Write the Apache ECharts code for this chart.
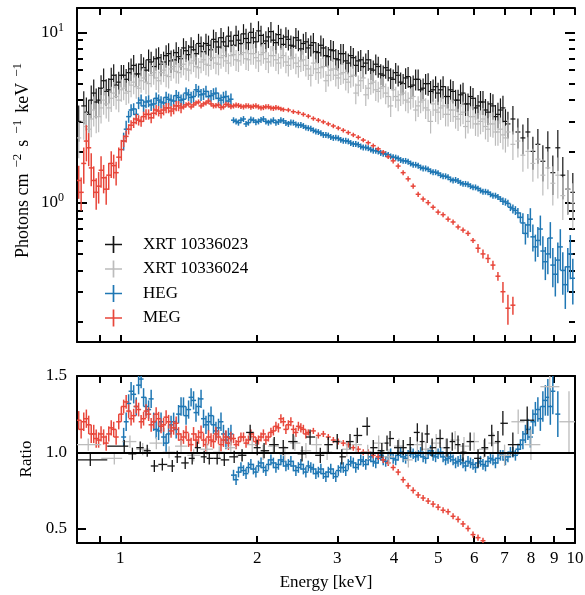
<!DOCTYPE html>
<html>
<head>
<meta charset="utf-8">
<script src="https://cdn.jsdelivr.net/npm/echarts@6/dist/echarts.min.js"></script>
<style>
  html, body { margin: 0; padding: 0; background: #fff; }
  #chart { width: 585px; height: 595px; }
</style>
</head>
<body>
<div id="chart"></div>
<script>
// energy bins (keV)
var energyGrid = [
  0.810, 0.831, 0.852, 0.874, 0.896, 0.919, 0.943, 0.967, 0.992, 1.017,
  1.043, 1.070, 1.097, 1.125, 1.154, 1.184, 1.214, 1.245, 1.277, 1.310,
  1.343, 1.377, 1.413, 1.449, 1.486, 1.524, 1.563, 1.603, 1.644, 1.686,
  1.729, 1.774, 1.819, 1.866, 1.913, 1.962, 2.013, 2.064, 2.117, 2.171,
  2.227, 2.284, 2.342, 2.402, 2.464, 2.527, 2.591, 2.658, 2.726, 2.796,
  2.867, 2.941, 3.016, 3.093, 3.172, 3.254, 3.337, 3.422, 3.510, 3.600,
  3.692, 3.786, 3.883, 3.982, 4.084, 4.188, 4.295, 4.406, 4.519, 4.634,
  4.753, 4.874, 4.999, 5.127, 5.258, 5.393, 5.531, 5.672, 5.817, 5.966,
  6.119, 6.275, 6.436, 6.600, 6.769, 6.943, 7.120, 7.302, 7.489, 7.681,
  7.877, 8.079, 8.286, 8.498, 8.715, 8.938, 9.167, 9.401, 9.642, 9.890
];
// bins lying between the ones above
var energyMid = [
  0.820, 0.842, 0.863, 0.885, 0.907, 0.931, 0.955, 0.979, 1.005, 1.030,
  1.056, 1.084, 1.111, 1.139, 1.169, 1.199, 1.229, 1.261, 1.293, 1.327,
  1.360, 1.395, 1.431, 1.467, 1.505, 1.543, 1.583, 1.623, 1.665, 1.707,
  1.751, 1.797, 1.842, 1.890, 1.937, 1.987, 2.039, 2.090, 2.144, 2.199,
  2.255, 2.313, 2.372, 2.433, 2.495, 2.559, 2.624, 2.692, 2.761, 2.832,
  2.903, 2.978, 3.054, 3.132, 3.212, 3.295, 3.379, 3.466, 3.555, 3.646,
  3.739, 3.834, 3.932, 4.033, 4.136, 4.241, 4.350, 4.462, 4.576, 4.693,
  4.813, 4.936, 5.063, 5.192, 5.325, 5.462, 5.601, 5.744, 5.891, 6.042,
  6.197, 6.355, 6.518, 6.684, 6.855, 7.031, 7.211, 7.395, 7.584, 7.779,
  7.977, 8.182, 8.391, 8.606, 8.826, 9.052, 9.284, 9.521, 9.765
];

// photons cm^-2 s^-1 keV^-1
var xrt23Flux = [
  3.0, 3.7, 3.3, 4.4, 4.0, 5.2, 4.6, 5.6, 5.1, 5.6,
  5.8, 6.4, 5.7, 6.2, 6.9, 6.3, 7.1, 6.7, 7.5, 6.9,
  7.2, 8.1, 7.4, 7.9, 8.6, 7.7, 8.4, 9.1, 8.2, 8.8,
  9.5, 8.4, 9.0, 9.8, 8.7, 9.3, 10.2, 8.6, 9.4, 9.0,
  9.7, 8.5, 9.1, 8.3, 9.0, 8.6, 8.1, 8.7, 7.6, 8.1,
  7.2, 7.8, 6.9, 7.5, 6.6, 7.1, 6.8, 6.3, 6.9, 6.0,
  6.3, 5.6, 6.0, 5.3, 5.6, 5.0, 5.5, 4.9, 5.3, 4.7,
  5.0, 4.6, 4.4, 4.8, 4.2, 4.5, 4.0, 4.4, 3.8, 4.1,
  3.7, 3.9, 3.4, 3.7, 3.3, 3.6, 2.9, 3.1, 2.6, 2.4,
  2.6, 2.0, 2.2, 1.75, 2.1, 1.5, 2.1, 1.45, 1.2, 1.15
];
var xrt23Mid = [
  null, 3.4, 4.0, 3.9, 4.7, 4.5, 5.3, 4.9, 5.6, 5.3,
  6.1, 5.7, 6.5, 6.0, 6.7, 7.0, 6.5, 7.3, 6.8, 7.6,
  7.0, 7.8, 8.2, 7.5, 8.3, 8.6, 7.9, 8.8, 9.3, 8.3,
  8.9, 9.6, 8.6, 9.2, 10.0, 8.8, 9.6, 8.9, 10.1, 8.7,
  9.2, 9.4, 8.4, 9.3, 8.0, 8.8, 8.4, 7.7, 8.4, 7.3,
  7.9, 7.0, 7.5, 6.8, 7.3, 6.4, 6.9, 6.6, 6.1, 6.5,
  5.7, 6.2, 5.4, 5.8, 5.1, 5.4, 4.8, 5.3, 4.6, 5.0,
  4.5, 4.8, 4.6, 4.2, 4.6, 4.0, 4.3, 3.8, 4.2, 3.6,
  3.9, 3.5, 3.8, 3.2, 3.5, 3.0
];
var xrt24Flux = [
  2.4, 3.0, 2.7, 3.5, 3.2, 4.0, 3.6, 4.4, 4.0, 4.7,
  4.5, 5.1, 4.7, 5.4, 5.0, 5.8, 5.2, 6.0, 5.5, 6.3,
  5.8, 6.5, 6.0, 6.8, 6.2, 6.9, 6.4, 7.1, 6.5, 7.3,
  6.6, 7.4, 6.8, 7.6, 6.9, 7.5, 6.8, 7.6, 6.7, 7.3,
  6.6, 7.3, 6.4, 7.1, 6.3, 6.9, 6.1, 6.6, 5.8, 6.3,
  5.6, 6.1, 5.4, 5.8, 5.1, 5.6, 4.9, 5.4, 4.7, 5.1,
  4.5, 4.8, 4.2, 4.6, 4.0, 4.4, 3.9, 4.2, 3.7, 4.0,
  3.5, 3.8, 3.4, 3.7, 3.3, 3.5, 3.1, 3.4, 3.0, 3.2,
  2.9, 3.1, 2.7, 2.9, 2.6, 2.5, 2.6, 2.2, 2.3, 1.9,
  2.0, 1.7, 1.8, 1.45, 1.6, 1.3, 1.45, 1.1, 1.2, 1.0
];
var xrt24Mid = [
  null, 2.8, 3.1, 3.2, 3.6, 3.8, 4.1, 4.2, 4.6, 4.4,
  4.9, 4.8, 5.2, 5.1, 5.6, 5.4, 5.8, 5.6, 6.1, 5.9,
  6.3, 6.1, 6.6, 6.3, 6.7, 6.5, 7.0, 6.6, 7.1, 6.8,
  7.3, 6.9, 7.4, 7.0, 7.5, 7.1, 7.4, 7.0, 7.3, 6.9,
  7.1, 6.7, 7.0, 6.6, 6.8, 6.4, 5.6, 6.1, 6.2, 5.2,
  6.0, 5.6, 5.7, 5.3, 5.5, 4.4, 5.2, 4.3, 5.0, 4.6,
  4.7, 4.4, 3.7, 4.2, 4.3, 4.0, 4.1, 3.5, 3.9, 3.6,
  3.0, 3.5, 3.6, 3.3, 3.5, 3.2, 3.3, 2.8, 3.2, 2.9,
  3.0, 2.8, 2.9, 2.6, 2.7, 2.4
];
// fractional errors of both XRT spectra
var xrtFluxErr = [
  0.24, 0.22, 0.22, 0.2, 0.19, 0.18, 0.17, 0.16, 0.15, 0.15,
  0.15, 0.15, 0.15, 0.15, 0.15, 0.15, 0.15, 0.15, 0.15, 0.15,
  0.14, 0.14, 0.14, 0.14, 0.14, 0.14, 0.14, 0.14, 0.14, 0.14,
  0.14, 0.14, 0.14, 0.14, 0.14, 0.14, 0.14, 0.14, 0.14, 0.14,
  0.14, 0.14, 0.14, 0.14, 0.14, 0.14, 0.14, 0.14, 0.14, 0.14,
  0.14, 0.14, 0.14, 0.14, 0.14, 0.14, 0.14, 0.14, 0.14, 0.14,
  0.14, 0.14, 0.14, 0.14, 0.14, 0.14, 0.14, 0.14, 0.14, 0.14,
  0.15, 0.15, 0.15, 0.15, 0.15, 0.15, 0.15, 0.15, 0.15, 0.15,
  0.16, 0.16, 0.16, 0.17, 0.17, 0.18, 0.18, 0.19, 0.2, 0.2,
  0.21, 0.22, 0.23, 0.24, 0.25, 0.26, 0.27, 0.28, 0.29, 0.3
];

var hegFlux = [
  null, null, null, null, null, null, null, null, null, 2.3,
  3.2, 3.55, 3.85, 3.7, 3.95, 3.8, 4.0, 3.85, 4.05, 3.95,
  4.15, 4.05, 4.3, 4.2, 4.5, 4.35, 4.2, 4.35, 4.1, 4.15,
  3.95, 3.05, 2.95, 3.1, 2.95, 3.05, 3.0, 3.1, 2.95, 3.05,
  2.98, 3.02, 2.9, 2.95, 2.85, 2.82, 2.74, 2.66, 2.6, 2.5,
  2.48, 2.4, 2.39, 2.31, 2.29, 2.21, 2.19, 2.11, 2.09, 2.02,
  2.0, 1.94, 1.91, 1.85, 1.82, 1.76, 1.74, 1.67, 1.65, 1.59,
  1.57, 1.51, 1.49, 1.43, 1.41, 1.35, 1.34, 1.29, 1.28, 1.23,
  1.21, 1.16, 1.15, 1.1, 1.08, 1.02, 0.99, 0.92, 0.87, 0.76,
  0.74, 0.63, 0.6, 0.52, 0.5, 0.43, 0.46, 0.4, 0.42, 0.36
];
var hegMid = [
  null, null, null, null, null, null, null, null, null, 2.7,
  3.5, 3.3, 4.0, 3.9, 3.75, 4.1, 3.9, 4.15, 4.0, 4.25,
  4.0, 4.4, 4.15, 4.6, 4.3, 4.5, 4.25, 4.4, 4.0, 4.2,
  4.05, 3.0, 3.05, 2.9, 3.08, 2.97, 3.06, 3.0, 3.0, 2.95,
  3.05, 2.94, 2.96, 2.88, 2.86, 2.76, 2.72, 2.62, 2.56, 2.5,
  2.43, 2.41, 2.34, 2.31, 2.24, 2.21, 2.14, 2.11, 2.05, 2.02,
  1.96, 1.93, 1.87, 1.84, 1.78, 1.76, 1.7, 1.67, 1.61, 1.59,
  1.53, 1.51, 1.45, 1.43, 1.37, 1.36, 1.31, 1.29, 1.25, 1.23,
  1.18, 1.16, 1.12, 1.1, 1.05, 1.01, 0.94, 0.9, 0.82, 0.66,
  0.8, 0.55, 0.7, 0.45, 0.62, 0.38, 0.55, 0.33, 0.5
];
var hegFluxErr = [
  0, 0, 0, 0, 0, 0, 0, 0, 0, 0.12,
  0.08, 0.08, 0.08, 0.08, 0.08, 0.08, 0.08, 0.08, 0.08, 0.08,
  0.08, 0.08, 0.08, 0.08, 0.08, 0.08, 0.08, 0.08, 0.08, 0.08,
  0.08, 0.04, 0.04, 0.04, 0.04, 0.04, 0.04, 0.04, 0.04, 0.04,
  0.04, 0.04, 0.04, 0.04, 0.04, 0.04, 0.04, 0.04, 0.04, 0.04,
  0.04, 0.04, 0.04, 0.04, 0.04, 0.04, 0.04, 0.04, 0.04, 0.04,
  0.04, 0.04, 0.04, 0.04, 0.04, 0.04, 0.04, 0.04, 0.04, 0.04,
  0.04, 0.04, 0.04, 0.04, 0.04, 0.04, 0.04, 0.04, 0.04, 0.04,
  0.04, 0.04, 0.04, 0.04, 0.04, 0.05, 0.05, 0.06, 0.07, 0.14,
  0.16, 0.18, 0.2, 0.22, 0.24, 0.26, 0.27, 0.28, 0.29, 0.3
];

var megFlux = [
  1.35, 1.7, 2.1, 1.35, 1.25, 1.4, 1.45, 1.65, 1.85, 2.3,
  2.7, 2.95, 3.05, 3.2, 3.3, 3.35, 3.45, 3.5, 3.6, 3.55,
  3.7, 3.65, 3.8, 3.75, 3.9, 3.8, 3.95, 3.7, 3.75, 3.65,
  3.75, 3.7, 3.72, 3.65, 3.7, 3.68, 3.65, 3.62, 3.66, 3.58,
  3.6, 3.52, 3.5, 3.42, 3.38, 3.3, 3.22, 3.12, 3.05, 2.98,
  2.9, 2.82, 2.74, 2.66, 2.58, 2.5, 2.42, 2.33, 2.25, 2.16,
  2.07, 1.98, 1.86, 1.76, 1.64, 1.5, 1.38, 1.25, 1.12, 1.05,
  1.0, 0.94, 0.88, 0.85, 0.8, 0.77, 0.72, 0.69, 0.66, 0.6,
  0.54, 0.5, 0.47, 0.43, 0.37, 0.3, 0.24, 0.25
];
var megMid = [
  1.15, 2.3, 1.6, 1.15, 1.55, 1.2, 1.7, 1.5, 2.05, 2.45,
  2.85, 3.1, 3.0, 3.3, 3.15, 3.5, 3.35, 3.6, 3.45, 3.7,
  3.6, 3.75, 3.65, 3.85, 3.7, 3.85, 3.8, 3.72, 3.62, 3.78,
  3.66, 3.74, 3.68, 3.7, 3.64, 3.7, 3.6, 3.66, 3.6, 3.62,
  3.55
];
var megFluxErr = [
  0.22, 0.24, 0.22, 0.21, 0.21, 0.19, 0.18, 0.16, 0.14, 0.08,
  0.07, 0.07, 0.07, 0.07, 0.07, 0.07, 0.07, 0.07, 0.07, 0.07,
  0.07, 0.035, 0.035, 0.035, 0.035, 0.035, 0.035, 0.035, 0.035, 0.035,
  0.035, 0.035, 0.035, 0.035, 0.035, 0.035, 0.035, 0.035, 0.035, 0.035,
  0.03, 0.03, 0.03, 0.03, 0.03, 0.03, 0.03, 0.03, 0.03, 0.03,
  0.03, 0.03, 0.03, 0.03, 0.03, 0.03, 0.03, 0.03, 0.03, 0.03,
  0.03, 0.03, 0.03, 0.035, 0.035, 0.035, 0.035, 0.035, 0.035, 0.035,
  0.035, 0.035, 0.035, 0.035, 0.035, 0.035, 0.035, 0.035, 0.035, 0.035,
  0.06, 0.06, 0.06, 0.06, 0.06, 0.14, 0.2, 0.12
];

// data / model ratios
var hegRatio = [
  null, null, null, null, null, null, null, null, null, 1.1,
  1.32, 1.38, 1.44, 1.36, 1.28, 1.2, 1.14, 1.1, 1.12, 1.2,
  1.25, 1.3, 1.28, 1.34, 1.3, 1.22, 1.2, 1.18, 1.16, 1.12,
  1.1, 0.85, 0.87, 0.88, 0.9, 0.89, 0.91, 0.9, 0.92, 0.93,
  0.92, 0.94, 0.92, 0.91, 0.9, 0.89, 0.91, 0.89, 0.87, 0.86,
  0.87, 0.86, 0.88, 0.9, 0.92, 0.93, 0.92, 0.94, 0.95, 0.94,
  0.96, 0.95, 0.97, 0.96, 0.98, 0.97, 0.98, 0.99, 0.98, 0.97,
  0.99, 0.98, 0.99, 0.97, 0.96, 0.95, 0.94, 0.93, 0.94, 0.92,
  0.93, 0.92, 0.94, 0.95, 0.96, 0.98, 0.97, 1.0, 1.02, 1.08,
  1.15, 1.2, 1.28, 1.3, 1.36, 1.4, 1.25
];
var hegRatioMid = [
  null, null, null, null, null, null, null, null, null, 1.2,
  1.4, 1.3, 1.48, 1.3, 1.35, 1.15, 1.2, 1.06, 1.18, 1.15,
  1.3, 1.24, 1.36, 1.26, 1.35, 1.18, 1.24, 1.14, 1.2, 1.08,
  1.12, 0.82, 0.9, 0.86, 0.92, 0.87, 0.93, 0.88, 0.95, 0.9,
  0.95, 0.91, 0.94, 0.88, 0.92, 0.87, 0.9, 0.86, 0.89, 0.84,
  0.89, 0.84, 0.9, 0.88, 0.94, 0.9, 0.95, 0.92, 0.97, 0.93,
  0.98, 0.94, 0.99, 0.95, 1.0, 0.96, 1.0, 0.97, 1.0, 0.96,
  1.01, 0.97, 1.0, 0.95, 0.97, 0.93, 0.95, 0.91, 0.93, 0.9,
  0.94, 0.91, 0.96, 0.93, 0.98, 0.95, 1.0, 0.98, 1.05, 1.12,
  1.1, 1.25, 1.22, 1.34, 1.3
];
var hegRatioErr = [
  0, 0, 0, 0, 0, 0, 0, 0, 0, 0.06,
  0.06, 0.06, 0.06, 0.06, 0.06, 0.06, 0.06, 0.06, 0.06, 0.06,
  0.06, 0.06, 0.06, 0.06, 0.06, 0.06, 0.06, 0.06, 0.06, 0.06,
  0.06, 0.035, 0.035, 0.035, 0.035, 0.035, 0.035, 0.035, 0.035, 0.035,
  0.035, 0.035, 0.035, 0.035, 0.035, 0.035, 0.035, 0.035, 0.035, 0.035,
  0.035, 0.035, 0.035, 0.035, 0.035, 0.035, 0.035, 0.035, 0.035, 0.035,
  0.035, 0.035, 0.035, 0.035, 0.035, 0.035, 0.035, 0.035, 0.035, 0.035,
  0.035, 0.035, 0.035, 0.035, 0.035, 0.035, 0.035, 0.035, 0.035, 0.035,
  0.035, 0.035, 0.035, 0.035, 0.035, 0.035, 0.035, 0.035, 0.035, 0.06,
  0.07, 0.08, 0.08, 0.1, 0.12, 0.15, 0.15
];
var megRatio = [
  1.21, 1.2, 1.18, 1.12, 1.08, 1.1, 1.12, 1.15, 1.2, 1.3,
  1.27, 1.24, 1.28, 1.22, 1.25, 1.2, 1.22, 1.18, 1.2, 1.16,
  1.12, 1.1, 1.08, 1.12, 1.1, 1.08, 1.1, 1.07, 1.1, 1.08,
  1.06, 1.09, 1.07, 1.1, 1.08, 1.1, 1.08, 1.12, 1.1, 1.14,
  1.16, 1.2, 1.18, 1.15, 1.17, 1.15, 1.13, 1.14, 1.11, 1.12,
  1.1, 1.08, 1.07, 1.06, 1.05, 1.03, 1.02, 1.0, 1.0, 0.98,
  0.97, 0.95, 0.93, 0.9, 0.87, 0.82, 0.78, 0.75, 0.72, 0.7,
  0.68, 0.66, 0.64, 0.62, 0.61, 0.58, 0.56, 0.53, 0.5, 0.46,
  0.44, 0.42
];
var megRatioMid = [
  1.15, 1.22, 1.12, 1.09, 1.12, 1.06, 1.16, 1.1, 1.25, 1.33,
  1.22, 1.3, 1.2, 1.27, 1.18, 1.25, 1.17, 1.23, 1.14, 1.19,
  1.08, 1.13, 1.05, 1.08, 1.13, 1.05, 1.08, 1.12, 1.05, 1.1,
  1.09, 1.05, 1.1, 1.06, 1.12, 1.07, 1.1, 1.08, 1.13, 1.17,
  1.22, 1.15, 1.2, 1.13, 1.16, 1.12
];
var megRatioErr = [
  0.06, 0.06, 0.06, 0.06, 0.05, 0.05, 0.05, 0.05, 0.05, 0.045,
  0.045, 0.045, 0.045, 0.045, 0.045, 0.045, 0.045, 0.045, 0.045, 0.045,
  0.045, 0.045, 0.045, 0.045, 0.045, 0.045, 0.045, 0.045, 0.045, 0.045,
  0.045, 0.03, 0.03, 0.03, 0.03, 0.03, 0.03, 0.03, 0.03, 0.03,
  0.03, 0.03, 0.03, 0.03, 0.03, 0.03, 0.02, 0.02, 0.02, 0.02,
  0.02, 0.02, 0.02, 0.02, 0.02, 0.02, 0.02, 0.02, 0.02, 0.02,
  0.02, 0.02, 0.02, 0.02, 0.02, 0.02, 0.02, 0.02, 0.02, 0.02,
  0.02, 0.02, 0.02, 0.02, 0.02, 0.02, 0.02, 0.02, 0.02, 0.02,
  0.02, 0.02
];

var xrt23RatioEnergy = [
  0.859, 1.020, 1.063, 1.106, 1.146, 1.188, 1.237, 1.301, 1.334, 1.389,
  1.439, 1.477, 1.529, 1.569, 1.633, 1.693, 1.780, 1.853, 1.930, 2.000,
  2.071, 2.180, 2.282, 2.399, 2.510, 2.614, 2.753, 2.866, 3.00, 3.07,
  3.20, 3.32, 3.49, 3.60, 3.76, 3.86, 3.92, 4.08, 4.19, 4.34,
  4.50, 4.61, 4.73, 4.85, 5.05, 5.23, 5.37, 5.53, 5.67, 5.88,
  6.12, 6.33, 6.56, 6.77, 6.94, 7.30, 7.85
];
var xrt23Ratio = [
  0.95, 1.04, 0.99, 1.03, 1.01, 0.91, 0.92, 0.91, 0.97, 0.93,
  0.96, 1.03, 0.97, 0.96, 0.96, 0.95, 0.97, 0.98, 1.13, 1.03,
  1.01, 1.05, 1.03, 1.07, 0.99, 1.10, 0.98, 1.05, 1.07, 0.97,
  1.07, 1.11, 1.17, 1.03, 1.01, 1.06, 1.09, 1.03, 1.03, 1.05,
  1.13, 1.07, 1.12, 1.03, 1.09, 1.03, 1.07, 1.05, 1.00, 1.07,
  0.96, 1.03, 1.11, 1.07, 1.19, 1.05, 1.21
];
var xrt23RatioErr = [
  0.04, 0.04, 0.04, 0.04, 0.04, 0.04, 0.04, 0.04, 0.04, 0.04,
  0.04, 0.04, 0.04, 0.04, 0.04, 0.04, 0.04, 0.04, 0.05, 0.05,
  0.05, 0.05, 0.05, 0.05, 0.05, 0.05, 0.05, 0.05, 0.05, 0.05,
  0.05, 0.05, 0.06, 0.05, 0.05, 0.05, 0.05, 0.05, 0.05, 0.05,
  0.06, 0.06, 0.06, 0.06, 0.06, 0.06, 0.06, 0.06, 0.06, 0.06,
  0.06, 0.06, 0.07, 0.07, 0.08, 0.08, 0.09
];
var xrt24RatioEnergy = [
  0.850, 0.970, 1.050, 1.120, 1.200, 1.280, 1.360, 1.450, 1.550, 1.650,
  1.750, 1.850, 1.950, 2.060, 2.170, 2.300, 2.420, 2.560, 2.700, 2.850,
  3.000, 3.150, 3.300, 3.500, 3.700, 3.900, 4.100, 4.300, 4.500, 4.700,
  4.950, 5.200, 5.450, 5.700, 6.000, 6.300, 6.600, 7.000, 7.500, 8.000,
  8.800, 9.700
];
var xrt24Ratio = [
  1.05, 0.96, 1.07, 1.02, 1.06, 1.00, 1.04, 0.98, 1.02, 1.00,
  1.03, 0.98, 1.05, 1.00, 1.04, 0.99, 1.06, 1.01, 1.05, 1.00,
  1.07, 1.02, 1.05, 1.00, 1.06, 0.97, 1.04, 0.95, 1.05, 1.02,
  1.06, 1.03, 1.08, 1.04, 1.07, 1.02, 1.06, 0.98, 1.20, 1.05,
  1.43, 1.20
];
var xrt24RatioErr = [
  0.04, 0.04, 0.04, 0.04, 0.04, 0.04, 0.04, 0.04, 0.04, 0.04,
  0.04, 0.04, 0.05, 0.05, 0.05, 0.05, 0.05, 0.05, 0.05, 0.05,
  0.05, 0.05, 0.05, 0.05, 0.05, 0.05, 0.05, 0.05, 0.05, 0.05,
  0.06, 0.06, 0.06, 0.06, 0.06, 0.06, 0.07, 0.07, 0.08, 0.1,
  0.12, 0.2
];

var energyTicks = [0.9, 1, 2, 3, 4, 5, 6, 7, 8, 9, 10];
var energyLabels = [1, 2, 3, 4, 5, 6, 7, 8, 9, 10];
var fluxMajor = [1, 10];
var fluxMinor = [0.2, 0.3, 0.4, 0.5, 0.6, 0.7, 0.8, 0.9, 2, 3, 4, 5, 6, 7, 8, 9];
var ratioTicks = [0.5, 1.0, 1.5];

var seriesNames = ["XRT 10336023", "XRT 10336024", "HEG", "MEG"];
var seriesColors = ["#141414", "#bcbcbc", "#1f77b4", "#e8463a"];

var FONT = "Liberation Serif";
var plusIcon = "path://M0,9 L20,9 L20,11 L0,11 Z M9,0 L11,0 L11,20 L9,20 Z";

// [E, y, yLow, yHigh, binLow, binHigh]
function buildPoints(energies, values, errors, relative) {
  var out = [];
  var n = energies.length;
  for (var i = 0; i < n; i++) {
    if (values[i] == null) continue;
    var e = energies[i];
    var prev = i > 0 ? energies[i - 1] : (e * e) / energies[i + 1];
    var next = i < n - 1 ? energies[i + 1] : (e * e) / energies[i - 1];
    var err = relative ? values[i] * errors[i] : errors[i];
    out.push([e, values[i], values[i] - err, values[i] + err,
      Math.sqrt(prev * e), Math.sqrt(e * next)]);
  }
  return out;
}

function errorSeries(name, color, xi, yi, data, width) {
  return {
    type: "custom",
    name: name,
    xAxisIndex: xi,
    yAxisIndex: yi,
    data: data,
    clip: true,
    silent: true,
    animation: false,
    itemStyle: { color: color },
    renderItem: function (params, api) {
      var c = api.coord([api.value(0), api.value(1)]);
      var lo = api.coord([api.value(0), api.value(2)]);
      var hi = api.coord([api.value(0), api.value(3)]);
      var l = api.coord([api.value(4), api.value(1)]);
      var r = api.coord([api.value(5), api.value(1)]);
      var st = { stroke: color, lineWidth: width };
      return {
        type: "group",
        children: [
          { type: "line", shape: { x1: c[0], y1: hi[1], x2: c[0], y2: lo[1] }, style: st },
          { type: "line", shape: { x1: l[0], y1: c[1], x2: r[0], y2: c[1] }, style: st },
        ],
      };
    },
  };
}

function axisBase(type, grid, position, ticks, tickLen) {
  return {
    type: type,
    gridIndex: grid,
    position: position,
    splitLine: { show: false },
    axisLine: { show: true, onZero: false, lineStyle: { color: "#000", width: 2 } },
    axisTick: {
      show: true, inside: true, length: tickLen, customValues: ticks,
      lineStyle: { color: "#000", width: 2 },
    },
    axisLabel: { show: false },
  };
}

function energyAxis(grid, position, withLabels) {
  var ax = axisBase("log", grid, position, energyTicks, 7);
  ax.logBase = 10;
  ax.min = 0.803;
  ax.max = 10;
  if (withLabels) {
    ax.axisLabel = {
      show: true, customValues: energyLabels, margin: 7,
      color: "#000", fontSize: 17, fontFamily: FONT,
      formatter: function (v) { return String(Math.round(v)); },
    };
  }
  return ax;
}

function fluxAxis(position, ticks, len, withLabels) {
  var ax = axisBase("log", 0, position, ticks, len);
  ax.logBase = 10;
  ax.min = 0.152;
  ax.max = 13.9;
  if (!withLabels) ax.axisLine = { show: false };
  if (withLabels) {
    ax.axisLabel = {
      show: true, customValues: fluxMajor, margin: 13, color: "#000",
      formatter: function (v) {
        return "{b|10}{s|" + Math.round(Math.log10(v)) + "}";
      },
      rich: {
        b: { fontSize: 17, lineHeight: 22, fontFamily: FONT, color: "#000" },
        s: { fontSize: 12, lineHeight: 12, fontFamily: FONT, color: "#000", verticalAlign: "top" },
      },
    };
  }
  return ax;
}

function ratioAxis(position, withLabels) {
  var ax = axisBase("value", 1, position, ratioTicks, 9);
  ax.min = 0.405;
  ax.max = 1.5;
  if (withLabels) {
    ax.axisLabel = {
      show: true, customValues: ratioTicks, margin: 10,
      color: "#000", fontSize: 17, fontFamily: FONT,
      formatter: function (v) { return v.toFixed(1); },
    };
  }
  return ax;
}

var supRich = {
  a: { fontSize: 18, lineHeight: 24, fontFamily: FONT, fill: "#000", color: "#000" },
  s: { fontSize: 13, lineHeight: 13, fontFamily: FONT, fill: "#000", color: "#000",
       verticalAlign: "top", padding: [0, 7, 0, 6] },
};

var myChart = echarts.init(document.getElementById("chart"), null, { renderer: "canvas" });

var option = {
  animation: false,
  backgroundColor: "#fff",
  textStyle: { fontFamily: FONT, color: "#000" },
  grid: [
    { left: 77, top: 8, width: 498, height: 334, outerBoundsMode: "none" },
    { left: 77, top: 376, width: 498, height: 167, outerBoundsMode: "none" },
  ],
  xAxis: [
    energyAxis(0, "bottom", false),
    energyAxis(0, "top", false),
    energyAxis(1, "bottom", true),
    energyAxis(1, "top", false),
  ],
  yAxis: [
    fluxAxis("left", fluxMajor, 10, true),
    fluxAxis("left", fluxMinor, 6, false),
    fluxAxis("right", fluxMajor, 10, false),
    fluxAxis("right", fluxMinor, 6, false),
    ratioAxis("left", true),
    ratioAxis("right", false),
  ],
  legend: {
    orient: "vertical",
    left: 100,
    top: 231,
    itemWidth: 19,
    itemHeight: 17,
    itemGap: 7.5,
    icon: plusIcon,
    selectedMode: false,
    data: seriesNames,
    textStyle: { fontSize: 17, fontFamily: FONT, color: "#000", padding: [0, 0, 0, 15] },
  },
  graphic: [
    {
      type: "text", x: 23, y: 157, rotation: Math.PI / 2,
      style: {
        text: "{a|Photons cm}{s|\u22122}{a|s}{s|\u22121}{a|keV}{s|\u22121}",
        rich: supRich, align: "center", verticalAlign: "middle", fill: "#000",
      },
    },
    {
      type: "text", x: 27, y: 459, rotation: Math.PI / 2,
      style: {
        text: "Ratio", font: "17px " + FONT, fill: "#000",
        align: "center", verticalAlign: "middle",
      },
    },
    {
      type: "text", x: 326, y: 583,
      style: {
        text: "Energy [keV]", font: "17px " + FONT, fill: "#000",
        align: "center", verticalAlign: "middle",
      },
    },
  ],
  series: [
    errorSeries(seriesNames[0], seriesColors[0], 0, 0,
      buildPoints(energyGrid, xrt23Flux, xrtFluxErr, true), 1.2),
    errorSeries(seriesNames[0], seriesColors[0], 0, 0,
      buildPoints(energyMid, xrt23Mid, xrtFluxErr, true), 1.2),
    errorSeries(seriesNames[1], seriesColors[1], 0, 0,
      buildPoints(energyGrid, xrt24Flux, xrtFluxErr, true), 1.2),
    errorSeries(seriesNames[1], seriesColors[1], 0, 0,
      buildPoints(energyMid, xrt24Mid, xrtFluxErr, true), 1.2),
    errorSeries(seriesNames[2], seriesColors[2], 0, 0,
      buildPoints(energyGrid, hegFlux, hegFluxErr, true), 1.5),
    errorSeries(seriesNames[2], seriesColors[2], 0, 0,
      buildPoints(energyMid, hegMid, hegFluxErr, true), 1.5),
    errorSeries(seriesNames[3], seriesColors[3], 0, 0,
      buildPoints(energyGrid, megFlux, megFluxErr, true), 1.5),
    errorSeries(seriesNames[3], seriesColors[3], 0, 0,
      buildPoints(energyMid, megMid, megFluxErr, true), 1.5),

    errorSeries(seriesNames[2], seriesColors[2], 2, 4,
      buildPoints(energyGrid, hegRatio, hegRatioErr, false), 1.5),
    errorSeries(seriesNames[2], seriesColors[2], 2, 4,
      buildPoints(energyMid, hegRatioMid, hegRatioErr, false), 1.5),
    errorSeries(seriesNames[3], seriesColors[3], 2, 4,
      buildPoints(energyGrid, megRatio, megRatioErr, false), 1.5),
    errorSeries(seriesNames[3], seriesColors[3], 2, 4,
      buildPoints(energyMid, megRatioMid, megRatioErr, false), 1.5),
    errorSeries(seriesNames[1], seriesColors[1], 2, 4,
      buildPoints(xrt24RatioEnergy, xrt24Ratio, xrt24RatioErr, false), 1.3),
    errorSeries(seriesNames[0], seriesColors[0], 2, 4,
      buildPoints(xrt23RatioEnergy, xrt23Ratio, xrt23RatioErr, false), 1.3),
    {
      type: "line",
      xAxisIndex: 2,
      yAxisIndex: 4,
      data: [],
      silent: true,
      z: 10,
      markLine: {
        silent: true,
        symbol: "none",
        label: { show: false },
        lineStyle: { color: "#000", width: 2.2, type: "solid" },
        data: [{ yAxis: 1 }],
      },
    },
  ],
};

myChart.setOption(option);
window.addEventListener("resize", function () {
  myChart.resize();
});
</script>
</body>
</html>
